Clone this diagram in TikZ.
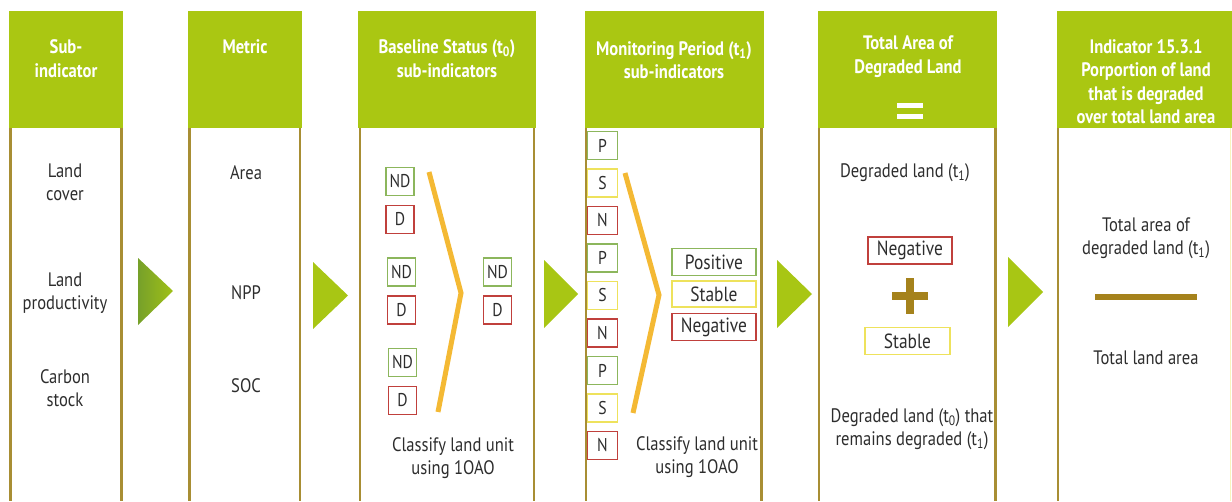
\documentclass[tikz,border=0pt]{standalone}
\usepackage{fontspec}
\setmainfont[FakeStretch=0.85]{PT Sans}
\usetikzlibrary{positioning}

\definecolor{headgreen}{RGB}{170,199,18}
\definecolor{arrowgreen}{RGB}{168,198,20}
\definecolor{darkgreen}{RGB}{118,160,42}
\definecolor{framegold}{RGB}{168,142,52}
\definecolor{chevorange}{RGB}{244,185,52}
\definecolor{tagred}{RGB}{192,64,60}
\definecolor{taggreen}{RGB}{140,182,92}
\definecolor{tagyellow}{RGB}{238,226,92}
\definecolor{plusgold}{RGB}{165,130,28}
\definecolor{inkgray}{RGB}{45,45,45}

\tikzset{
  head/.style={fill=headgreen, inner sep=0pt, minimum height=117pt, anchor=north west},
  htext/.style={text=white, align=center, inner sep=0pt, font=\fontsize{19.5pt}{23.5pt}\selectfont\bfseries},
  btext/.style={text=inkgray, align=center, inner sep=0pt, font=\fontsize{19.5pt}{23pt}\selectfont},
  frame/.style={framegold, line width=2.5pt},
  chevron/.style={chevorange, line width=5pt},
  tag/.style={draw, line width=1.4pt, text=inkgray, inner sep=0pt, minimum width=28pt, minimum height=28pt, font=\fontsize{18.5pt}{20pt}\selectfont},
  gtag/.style={tag, draw=taggreen},
  ytag/.style={tag, draw=tagyellow},
  rtag/.style={tag, draw=tagred},
  wide/.style={minimum width=84pt, minimum height=27pt, font=\fontsize{20.5pt}{22pt}\selectfont}
}

\begin{document}
\begin{tikzpicture}[x=1pt, y=-1pt]
    \useasboundingbox (0,0) rectangle (1232,501);
    % column heads
    \node[head, minimum width=114pt] (h1) at (9,11) {};
    \node[head, minimum width=114pt] (h2) at (188,11) {};
    \node[head, minimum width=178pt] (h3) at (358,11) {};
    \node[head, minimum width=179pt] (h4) at (585,11) {};
    \node[head, minimum width=179pt] (h5) at (818,11) {};
    \node[head, minimum width=175pt] (h6) at (1057,11) {};
    \node[htext] (ht1) at (66,58.5) {Sub-\\indicator};
    \node[htext] (ht2) at (245,47) {Metric};
    \node[htext] (ht3) at (447,58.5) {Baseline Status (t\textsubscript{0})\\sub-indicators};
    \node[htext] (ht4) at (674,60) {Monitoring Period (t\textsubscript{1})\\sub-indicators};
    \node[htext] (ht5) at (908,56.5) {Total Area of\\Degraded Land};
    \node[htext] (ht6) at (1146,81.5) {Indicator 15.3.1\\Porportion of land\\that is degraded\\over total land area};
    \fill[white] (897,103) rectangle (923,108);
    \fill[white] (897,114) rectangle (923,119);
    % column frames
    \foreach \x in {10.5,121.5,189.5,300,360,534,586,761.5,819,995.5,1058}
      \draw[frame] (\x,128) -- (\x,501);
    \draw[tagyellow!40, line width=1pt] (1230.5,128) -- (1230.5,501);
    % arrows between columns
    \shade[left color=darkgreen, right color=arrowgreen!85!darkgreen] (138,258) -- (173,291) -- (138,325) -- cycle;
    \fill[arrowgreen] (313,262) -- (348,295.5) -- (313,329) -- cycle;
    \fill[arrowgreen] (544,260) -- (578,294) -- (544,328) -- cycle;
    \fill[arrowgreen] (777,260) -- (812,294) -- (777,328) -- cycle;
    \fill[arrowgreen] (1008,257) -- (1043,292) -- (1008,327) -- cycle;
    % sub-indicators and metrics
    \node[btext] (land) at (65,182.5) {Land\\cover};
    \node[btext] (prod) at (65,293.5) {Land\\productivity};
    \node[btext] (carb) at (65,388.5) {Carbon\\stock};
    \node[btext] (area) at (246,173) {Area};
    \node[btext] (npp) at (246,293) {NPP};
    \node[btext] (soc) at (246,386) {SOC};
    % baseline
    \node[gtag] (nd1) at (400,181.5) {ND};
    \node[rtag, below=8.5pt of nd1] (d1) {D};
    \node[gtag] (nd2) at (401.5,272) {ND};
    \node[rtag, below=8.5pt of nd2] (d2) {D};
    \node[gtag] (nd3) at (402.5,362.5) {ND};
    \node[rtag, below=8.5pt of nd3] (d3) {D};
    \node[gtag] (nd4) at (497.5,272) {ND};
    \node[rtag, below=8.5pt of nd4] (d4) {D};
    \draw[chevron] (429,172) -- (461,293) -- (438,412);
    \node[btext] (cls1) at (453,458) {Classify land unit\\using 1OAO};
    % monitoring
    \foreach \l/\s [count=\i] in {P/gtag,S/ytag,N/rtag,P/gtag,S/ytag,N/rtag,P/gtag,S/ytag,N/rtag}
      \node[\s, minimum width=30pt] (m\i) at (602.5,{108+37.5*\i}) {\l};
    \draw[chevron] (625,173) -- (659,295) -- (633,413);
    \node[gtag, wide] (pos) at (714,262) {Positive};
    \node[ytag, wide, minimum height=26pt] (stab) at (714,294) {Stable};
    \node[rtag, wide] (neg) at (714,327) {Negative};
    \node[btext] (cls2) at (697,457) {Classify land unit\\using 1OAO};
    % total area of degraded land
    \node[btext] (deg1) at (905,173) {Degraded land (t\textsubscript{1})};
    \node[rtag, wide] (neg2) at (910,250.5) {Negative};
    \fill[plusgold] (906,278) rectangle (914,314);
    \fill[plusgold] (892,292) rectangle (928,300);
    \node[ytag, wide, minimum width=85pt] (stab2) at (907.5,341) {Stable};
    \node[btext] (deg0) at (912,429) {Degraded land (t\textsubscript{0}) that\\remains degraded (t\textsubscript{1})};
    % indicator
    \node[btext] (tot1) at (1146,238.5) {Total area of\\degraded land (t\textsubscript{1})};
    \fill[plusgold] (1095,294) rectangle (1197,300);
    \node[btext] (tot2) at (1146,358) {Total land area};
\end{tikzpicture}
\end{document}
